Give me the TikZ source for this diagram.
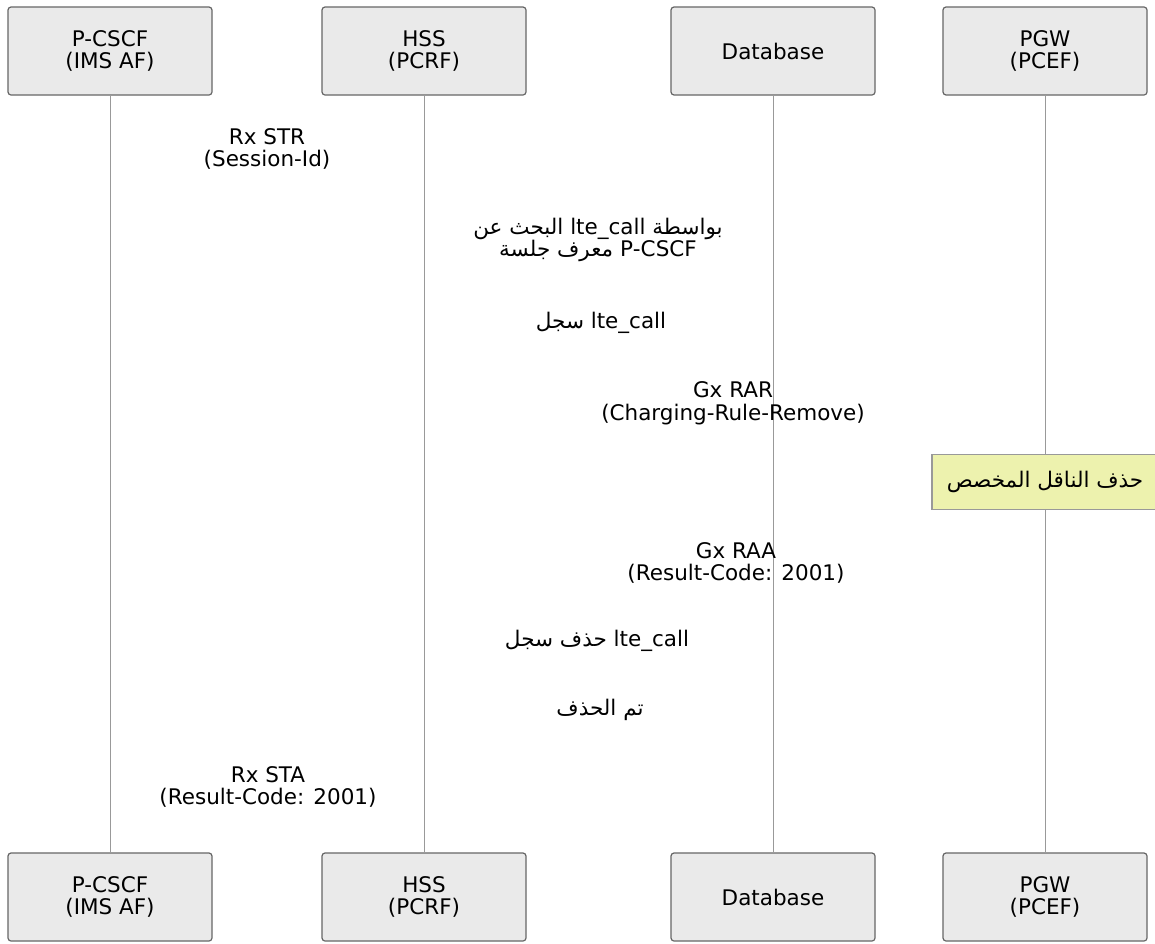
\documentclass[tikz,border=0pt]{standalone}
\usepackage{fontspec}
\setmainfont{DejaVu Sans}
\newfontfamily\arabicfont[Script=Arabic]{DejaVu Sans}
\TeXXeTstate=1
\newcommand\seqfont{\fontsize{10.75}{11.25}\selectfont}
\definecolor{actorfill}{HTML}{EAEAEA}
\definecolor{actorline}{HTML}{666666}
\definecolor{lifegray}{HTML}{999999}
\definecolor{notefill}{HTML}{EDF2AE}
\definecolor{noteline}{HTML}{999999}

\begin{document}
\begin{tikzpicture}[x=0.5pt,y=-0.5pt]
        \tikzstyle{actorbox}=[draw=actorline, fill=actorfill, line width=0.6pt, rounded corners=1.5pt, minimum width=102pt, minimum height=44pt, inner sep=0pt, align=center, font=\seqfont]
        \tikzstyle{lifeline}=[draw=lifegray, line width=0.5pt]
        \tikzstyle{msglabel}=[inner sep=0pt, align=center, font=\seqfont]
        \tikzstyle{arlabel}=[inner sep=0pt, align=center, font={\seqfont\arabicfont}]
        \tikzstyle{notebox}=[draw=noteline, fill=notefill, line width=0.6pt, minimum width=113pt, minimum height=27.5pt, inner sep=0pt, font={\seqfont\arabicfont}]
        \useasboundingbox (0,0) rectangle (1155,943);
        \foreach \n/\x/\t in {pcscf/110/{P-CSCF\\(IMS AF)}, hss/424/{HSS\\(PCRF)}, db/773/{Database}, pgw/1045/{PGW\\(PCEF)}} {
            \node[actorbox] (\n-top) at (\x,51) {\t};
            \node[actorbox] (\n-bot) at (\x,897) {\t};
            \draw[lifeline] (\n-top) -- (\n-bot);
        }
        \node[msglabel] (str) at (267,149) {Rx STR\\(Session-Id)};
        \node[arlabel] (lookup) at (598,240) {\beginR البحث عن\endR{} lte\_call \beginR بواسطة\endR\\\beginR معرف جلسة\endR{} P-CSCF};
        \node[arlabel] (record) at (601,323) {\beginR سجل\endR{} lte\_call};
        \node[msglabel] (rar) at (733,403) {Gx RAR\\(Charging-Rule-Remove)};
        \node[notebox] (bearer) at (1045,482) {\beginR حذف الناقل المخصص\endR};
        \node[msglabel] (raa) at (736,563) {Gx RAA\\(Result-Code: 2001)};
        \node[arlabel] (delete) at (597,641) {\beginR حذف سجل\endR{} lte\_call};
        \node[arlabel] (deleted) at (600,710) {\beginR تم الحذف\endR};
        \node[msglabel] (sta) at (268,787) {Rx STA\\(Result-Code: 2001)};
      \end{tikzpicture}
\end{document}
